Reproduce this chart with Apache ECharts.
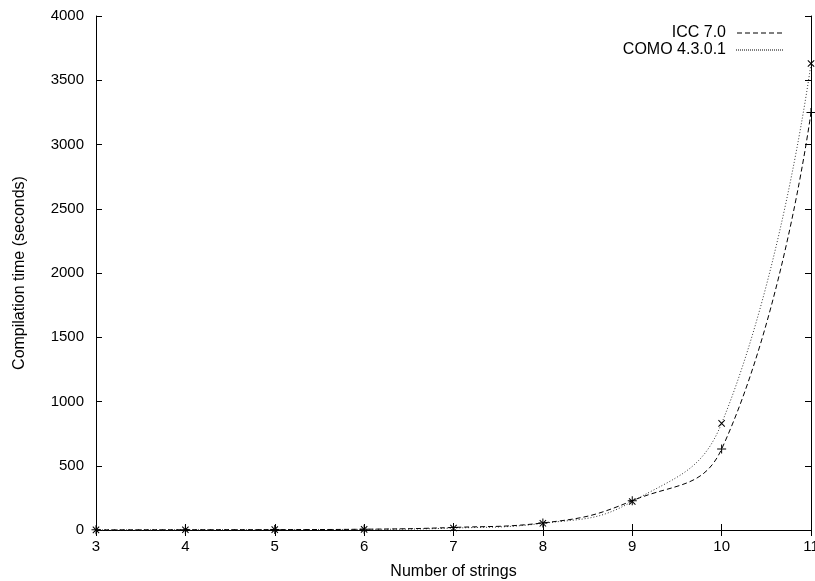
<!DOCTYPE html>
<html>
<head>
<meta charset="utf-8">
<script src="https://cdn.jsdelivr.net/npm/echarts@6/dist/echarts.min.js"></script>
<style>
  html, body { margin: 0; padding: 0; background: #fff; }
  #chart { width: 815px; height: 581px; }
</style>
</head>
<body>
<div id="chart"></div>
<script>
// number of strings vs compile time
const strings = [3, 4, 5, 6, 7, 8, 9, 10, 11]
const iccTimes = [1, 2, 3, 6, 20, 55, 228, 630, 3250]
const comoTimes = [1, 2, 3, 5, 15, 52, 222, 830, 3630]
const seriesNames = ['ICC 7.0', 'COMO 4.3.0.1']

const font = 'Liberation Sans, Arial, sans-serif'

// markers: gnuplot style + and x
const plusPath = 'path://M4,0h1v9h-1z M0,4h9v1h-9z'

// legend sample lines built as filled bars
function dashIcon(dash, gap, total) {
  let d = ''
  for (let x = 0; x < total; x += dash + gap) {
    const w = Math.min(dash, total - x)
    d += `M${x},0h${w}v1h-${w}z `
  }
  return 'path://' + d.trim()
}

const chart = echarts.init(document.getElementById('chart'))

const tickStyle = { show: true, inside: true, length: 6, lineStyle: { color: '#000', width: 1 } }
const plainNum = v => String(v)

const option = {
  backgroundColor: '#fff',
  animation: false,
  textStyle: { fontFamily: font },
  grid: { left: 96, right: 4, top: 16, bottom: 51, outerBoundsMode: 'none' },
  legend: {
    orient: 'vertical',
    right: 27,
    top: 20,
    align: 'right',
    itemGap: 1,
    itemWidth: 47,
    itemHeight: 1,
    textStyle: { fontFamily: font, fontSize: 16, color: '#000', lineHeight: 16, padding: [0, 5, 0, 0] },
    data: [
      { name: seriesNames[0], icon: dashIcon(5, 3, 47) },
      { name: seriesNames[1], icon: dashIcon(1, 1, 47) }
    ]
  },
  xAxis: [
    {
      type: 'value',
      min: 3,
      max: 11,
      interval: 1,
      name: 'Number of strings',
      nameLocation: 'middle',
      nameGap: 34,
      nameTextStyle: { fontFamily: font, fontSize: 16, color: '#000' },
      axisLine: { lineStyle: { color: '#000', width: 1 } },
      axisTick: tickStyle,
      axisLabel: { color: '#000', fontSize: 15, fontFamily: font, margin: 9, formatter: plainNum },
      splitLine: { show: false }
    },
    {
      type: 'value',
      position: 'top',
      min: 3,
      max: 11,
      interval: 1,
      axisLine: { show: true, lineStyle: { color: '#000', width: 1 } },
      axisTick: tickStyle,
      axisLabel: { show: false },
      splitLine: { show: false }
    }
  ],
  yAxis: [
    {
      type: 'value',
      min: 0,
      max: 4000,
      interval: 500,
      name: 'Compilation time (seconds)',
      nameLocation: 'middle',
      nameGap: 68,
      nameTextStyle: { fontFamily: font, fontSize: 16, color: '#000' },
      axisLine: { show: true, lineStyle: { color: '#000', width: 1 } },
      axisTick: tickStyle,
      axisLabel: { color: '#000', fontSize: 15, fontFamily: font, margin: 12, formatter: plainNum },
      splitLine: { show: false }
    },
    {
      type: 'value',
      position: 'right',
      min: 0,
      max: 4000,
      interval: 500,
      axisLine: { show: true, lineStyle: { color: '#000', width: 1 } },
      axisTick: tickStyle,
      axisLabel: { show: false },
      splitLine: { show: false }
    }
  ],
  series: [
    {
      name: seriesNames[0],
      type: 'line',
      data: strings.map((s, i) => [s, iccTimes[i]]),
      smooth: 0.45,
      symbol: plusPath,
      symbolSize: 9,
      showAllSymbol: true,
      color: '#000',
      itemStyle: { color: '#000' },
      lineStyle: { color: '#000', width: 1, type: [5, 3] },
      clip: false,
      z: 3
    },
    {
      name: seriesNames[1],
      type: 'line',
      data: strings.map((s, i) => [s, comoTimes[i]]),
      smooth: 0.45,
      symbol: plusPath,
      symbolRotate: 45,
      symbolSize: 9,
      showAllSymbol: true,
      color: '#000',
      itemStyle: { color: '#000' },
      lineStyle: { color: '#333', width: 1, type: [1, 2] },
      clip: false,
      z: 2
    }
  ]
}

chart.setOption(option)
</script>
</body>
</html>
